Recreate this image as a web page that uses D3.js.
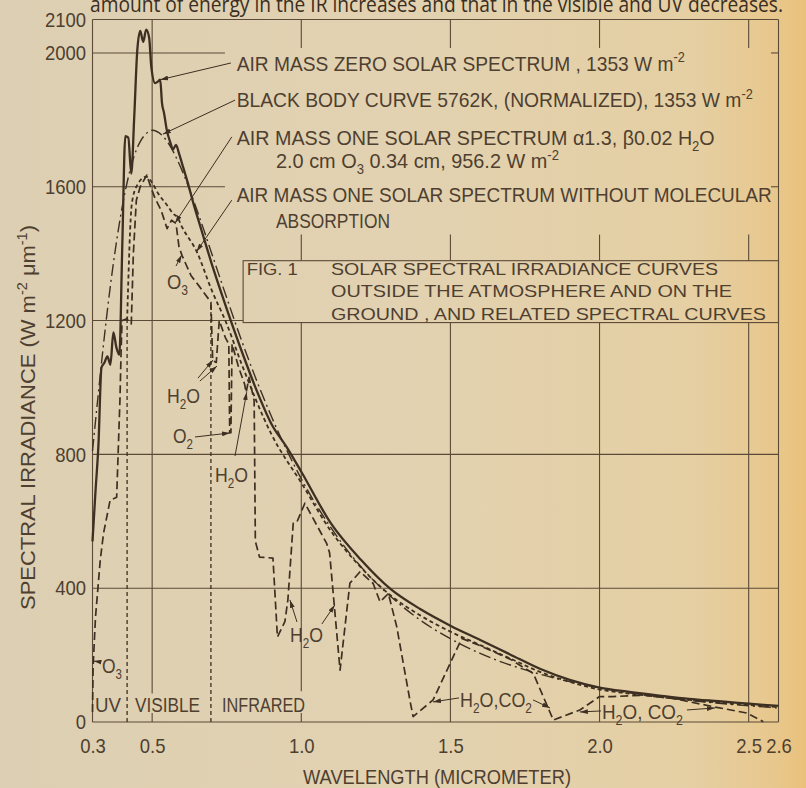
<!DOCTYPE html>
<html>
<head>
<meta charset="utf-8">
<script src="https://cdn.jsdelivr.net/npm/d3@7"></script>
<style>
  html, body { margin: 0; padding: 0; background: #e2d2b1; }
  svg { display: block; }
</style>
</head>
<body>
<svg id="chart" width="806" height="788"></svg>
<script>
// ---------------------------------------------------------------------------
// Axis ticks
const wavelengthTicks = [0.3, 0.5, 1.0, 1.5, 2.0, 2.5, 2.6];
const wavelengthTickLabels = ["0.3", "0.5", "1.0", "1.5", "2.0", "2.5", "2.6"];
const irradianceTicks = [0, 400, 800, 1200, 1600, 2000, 2100];
const irradianceTickLabels = ["0", "400", "800", "1200", "1600", "2000", "2100"];

// Air mass zero solar spectrum, 1353 W m-2 (W m-2 um-1)
const am0Wavelength = [0.300, 0.310, 0.320, 0.330, 0.340, 0.350, 0.360, 0.370, 0.380, 0.390,
  0.400, 0.410, 0.420, 0.430, 0.440, 0.450, 0.460, 0.470, 0.480, 0.490, 0.497, 0.510, 0.520,
  0.527, 0.533, 0.540, 0.549, 0.560, 0.570, 0.580, 0.590, 0.600, 0.620, 0.640, 0.660, 0.680,
  0.700, 0.720, 0.750, 0.800, 0.850, 0.900, 0.950, 1.000, 1.100, 1.200, 1.300, 1.400, 1.500,
  1.600, 1.700, 1.800, 1.900, 2.000, 2.100, 2.200, 2.300, 2.400, 2.500, 2.600];
const am0Irradiance = [540, 689, 830, 1059, 1074, 1093, 1068, 1165, 1120, 1098,
  1429, 1751, 1747, 1639, 1810, 2006, 2066, 2033, 2070, 2045, 1960, 1910, 1915,
  1920, 1850, 1820, 1770, 1735, 1712, 1725, 1700, 1670, 1610, 1545, 1486, 1427,
  1369, 1314, 1235, 1109, 992, 891, 823, 748, 593, 485, 397, 337, 288,
  245, 202, 159, 126, 103, 90, 79, 69, 62, 55, 48];

// Black body curve 5762 K, normalized to 1353 W m-2
const bbWavelength = [0.30, 0.32, 0.34, 0.36, 0.38, 0.40, 0.42, 0.44, 0.46, 0.48, 0.50, 0.55,
  0.60, 0.65, 0.70, 0.75, 0.80, 0.90, 1.00, 1.10, 1.20, 1.30, 1.40, 1.50, 1.60, 1.80, 2.00,
  2.20, 2.40, 2.60];
const bbIrradiance = [810, 986, 1154, 1304, 1433, 1542, 1628, 1693, 1735, 1759, 1769, 1736,
  1649, 1531, 1400, 1268, 1140, 913, 727, 580, 464, 375, 304, 249, 205, 143, 102,
  75, 56, 42];

// Air mass one solar spectrum, alpha 1.3, beta 0.02, H2O 2.0 cm, O3 0.34 cm, 956.2 W m-2
const am1Wavelength = [0.300, 0.302, 0.310, 0.326, 0.337, 0.359, 0.381, 0.392, 0.396, 0.399,
  0.415, 0.430, 0.437, 0.447, 0.460, 0.482, 0.495, 0.510, 0.530, 0.550, 0.565, 0.580, 0.590,
  0.600, 0.630, 0.660, 0.697, 0.703, 0.715, 0.725, 0.745, 0.757, 0.760, 0.764, 0.768, 0.790,
  0.810, 0.815, 0.825, 0.842, 0.846, 0.860, 0.905, 0.920, 0.945, 0.955, 0.973, 0.985, 1.012,
  1.085, 1.095, 1.130, 1.163, 1.197, 1.241, 1.264, 1.292, 1.320, 1.364, 1.375, 1.442, 1.538,
  1.600, 1.700, 1.778, 1.845, 1.934, 2.000, 2.045, 2.150, 2.250, 2.380, 2.493, 2.549];
const am1Irradiance = [30, 164, 313, 484, 564, 663, 672, 962, 1111, 1200,
  1205, 1190, 1400, 1560, 1600, 1635, 1600, 1565, 1530, 1475, 1500, 1490, 1420,
  1395, 1335, 1300, 1255, 1080, 1075, 1200, 1150, 1130, 865, 865, 1130, 1060,
  1010, 985, 1030, 960, 540, 493, 490, 254, 300, 364, 594, 597, 654,
  534, 505, 155, 415, 449, 414, 359, 384, 285, 66, 16, 66, 250,
  228, 188, 145, 6, 36, 76, 76, 80, 70, 46, 27, 1];

// Air mass one solar spectrum without molecular absorption
const am1ClearWavelength = [0.416, 0.432, 0.450, 0.480, 0.500, 0.520, 0.550, 0.570, 0.585,
  0.600, 0.650, 0.700, 0.750, 0.800, 0.900, 1.000, 1.100, 1.200, 1.300, 1.400, 1.500, 1.600,
  1.700, 1.800, 1.900, 2.000, 2.100, 2.200, 2.300, 2.400, 2.500, 2.600];
const am1ClearIrradiance = [1200, 1550, 1605, 1630, 1612, 1580, 1545, 1520, 1508,
  1480, 1405, 1290, 1190, 1070, 860, 715, 570, 462, 378, 318, 270, 230,
  190, 150, 120, 97, 85, 75, 66, 58, 51, 45];

// UV / visible / infrared band edges (micrometer)
const bandEdges = [0.416, 0.697];

// ---------------------------------------------------------------------------
const INK = "#3d2f21";
const GRID = "#5b4a37";
const TEXT = "#4e3f30";
const SANS = "'Liberation Sans', Arial, Helvetica, sans-serif";

const svg = d3.select("#chart");
const defs = svg.append("defs");

const paper = defs.append("linearGradient").attr("id", "paper")
  .attr("x1", 0).attr("x2", 1).attr("y1", 0).attr("y2", 0);
[[0, "#ddcfb3"], [0.5, "#e2d2b1"], [0.86, "#e5cfa3"], [0.965, "#e8c78c"], [1, "#eac07a"]]
  .forEach(([o, c]) => paper.append("stop").attr("offset", o).attr("stop-color", c));
svg.append("rect").attr("width", 806).attr("height", 788).attr("fill", "url(#paper)");

defs.append("marker").attr("id", "arrow")
  .attr("viewBox", "0 0 10 6").attr("refX", 10).attr("refY", 3)
  .attr("markerWidth", 8).attr("markerHeight", 5)
  .attr("markerUnits", "userSpaceOnUse").attr("orient", "auto")
  .append("path").attr("d", "M0,0L10,3L0,6Z").attr("fill", INK);

const x = d3.scaleLinear().domain([0.3, 2.6]).range([92.5, 778.5]);
const y = d3.scaleLinear().domain([0, 2100]).range([722, 19.5]);

function valueAt(xs, ys, v) {
  const i = d3.bisectLeft(xs, v);
  if (i <= 0) return ys[0];
  if (i >= xs.length) return ys[ys.length - 1];
  const t = (v - xs[i - 1]) / (xs[i] - xs[i - 1]);
  return ys[i - 1] + t * (ys[i] - ys[i - 1]);
}

// Text with sub/superscript pieces; parts are [text, "sub"|"sup"|undefined]
function rich(parent, parts, size, px, py, width, family) {
  const t = parent.append("text")
    .attr("x", px).attr("y", py)
    .attr("font-size", size).attr("font-family", family || SANS)
    .attr("fill", TEXT);
  let shift = 0;
  parts.forEach(p => {
    const s = t.append("tspan").text(p[0]);
    const target = p[1] === "sub" ? size * 0.3 : p[1] === "sup" ? -size * 0.4 : 0;
    if (target - shift !== 0) s.attr("dy", target - shift);
    shift = target;
    if (p[1]) s.attr("font-size", size * 0.66);
  });
  if (width) t.attr("textLength", width).attr("lengthAdjust", "spacingAndGlyphs");
  return t;
}

// ---------------------------------------------------------------------------
// Grid (drawn in pieces so it stays clear of the lettering)
const gridG = svg.append("g").attr("stroke", GRID).attr("stroke-width", 1.1).attr("fill", "none");
const hSegments = [
  [2100, [[0.3, 2.6]]],
  [2000, [[0.3, 0.744], [2.575, 2.6]]],
  [1600, [[0.3, 0.744], [2.575, 2.6]]],
  [1200, [[0.3, 0.805]]],
  [800, [[0.3, 2.6]]],
  [400, [[0.3, 2.6]]],
  [0, [[0.3, 2.6]]]
];
hSegments.forEach(([v, segs]) => segs.forEach(([a, b]) =>
  gridG.append("line").attr("x1", x(a)).attr("x2", x(b)).attr("y1", y(v)).attr("y2", y(v))));
const vSegments = [
  [0.3, [[0, 2100]]],
  [0.5, [[2100, 85], [27, 0]]],
  [1.0, [[2100, 2015], [1457, 1379], [1194, 92], [27, 0]]],
  [1.5, [[2100, 2015], [1457, 1379], [1194, 0]]],
  [2.0, [[2100, 2015], [1457, 1379], [1194, 0]]],
  [2.5, [[2100, 2015], [1457, 1379], [1194, 0]]],
  [2.6, [[0, 2100]]]
];
vSegments.forEach(([w, segs]) => segs.forEach(([a, b]) =>
  gridG.append("line").attr("x1", x(w)).attr("x2", x(w)).attr("y1", y(a)).attr("y2", y(b))));

// Caption box
gridG.append("rect")
  .attr("x", x(0.805)).attr("y", y(1379))
  .attr("width", x(2.6) - x(0.805)).attr("height", y(1194) - y(1379));

// ---------------------------------------------------------------------------
// Axes
const yAxis = svg.append("g").attr("transform", `translate(${x(0.3)},0)`)
  .call(d3.axisLeft(y).tickValues(irradianceTicks).tickSize(0).tickPadding(6.5)
    .tickFormat((d, i) => irradianceTickLabels[i]));
const xAxis = svg.append("g").attr("transform", `translate(0,${y(0)})`)
  .call(d3.axisBottom(x).tickValues(wavelengthTicks).tickSize(0).tickPadding(16)
    .tickFormat((d, i) => wavelengthTickLabels[i]));
[yAxis, xAxis].forEach(g => {
  g.select(".domain").remove();
  g.selectAll("text").attr("font-size", 21).attr("font-family", SANS).attr("fill", TEXT)
    .each(function () {
      const w = this.getComputedTextLength();
      d3.select(this).attr("textLength", w * 0.88).attr("lengthAdjust", "spacingAndGlyphs");
    });
});

rich(svg, [["WAVELENGTH (MICROMETER)"]], 21, 437, 784, 268).attr("text-anchor", "middle");
rich(svg, [["SPECTRAL IRRADIANCE (W m"], ["-2", "sup"], [" μm"], ["-1", "sup"], [")"]], 21, 0, 0, 385)
  .attr("transform", "translate(35,610) rotate(-90)");

// Running text above the chart
rich(svg, [["amount of energy in the IR increases and that in the visible and UV decreases."]],
  21, 90, 11.5, 693, "'Open Sans', 'Noto Sans', sans-serif").attr("fill", "#3a2e22");

// ---------------------------------------------------------------------------
// Band edges
const bandG = svg.append("g").attr("stroke", INK).attr("stroke-width", 1.3)
  .attr("stroke-dasharray", "4,3").attr("fill", "none");
bandEdges.forEach(w => bandG.append("line")
  .attr("x1", x(w)).attr("x2", x(w)).attr("y1", y(0))
  .attr("y2", y(valueAt(am1Wavelength, am1Irradiance, w))));

// Curves
const path = (xs, ys, curve) => d3.line().x(d => x(d[0])).y(d => y(d[1])).curve(curve)(d3.zip(xs, ys));
const curveG = svg.append("g").attr("fill", "none").attr("stroke", INK)
  .attr("stroke-linejoin", "round");
curveG.append("path").attr("d", path(bbWavelength, bbIrradiance, d3.curveMonotoneX))
  .attr("stroke-width", 1.4).attr("stroke-dasharray", "12,4,2,4");
curveG.append("path").attr("d", path(am1ClearWavelength, am1ClearIrradiance, d3.curveMonotoneX))
  .attr("stroke-width", 1.8).attr("stroke-dasharray", "4,3");
curveG.append("path").attr("d", path(am1Wavelength, am1Irradiance, d3.curveLinear))
  .attr("stroke-width", 1.7).attr("stroke-dasharray", "8,4");
curveG.append("path").attr("d", path(am0Wavelength, am0Irradiance, d3.curveMonotoneX))
  .attr("stroke-width", 2.3);

// ---------------------------------------------------------------------------
// Curve legend with leader lines
const legendG = svg.append("g");
rich(legendG, [["AIR MASS ZERO SOLAR SPECTRUM , 1353 W m"], ["-2", "sup"]], 21, x(0.7835), y(1947), 448);
rich(legendG, [["BLACK BODY CURVE 5762K, (NORMALIZED), 1353 W m"], ["-2", "sup"]], 21, x(0.7835), y(1837), 516);
rich(legendG, [["AIR MASS ONE SOLAR SPECTRUM α1.3, β0.02 H"], ["2", "sub"], ["O"]], 21, x(0.7835), y(1726), 478);
rich(legendG, [["2.0 cm O"], ["3", "sub"], [" 0.34 cm, 956.2 W m"], ["-2", "sup"]], 21, x(0.9152), y(1656), 283);
rich(legendG, [["AIR MASS ONE SOLAR SPECTRUM WITHOUT MOLECULAR"]], 21, x(0.7835), y(1553), 535);
rich(legendG, [["ABSORPTION"]], 21, x(0.9152), y(1478), 114);

const leaderG = svg.append("g").attr("stroke", INK).attr("stroke-width", 1).attr("fill", "none");
function leader(w0, v0, w1, v1) {
  leaderG.append("line").attr("x1", x(w0)).attr("y1", y(v0)).attr("x2", x(w1)).attr("y2", y(v1))
    .attr("marker-end", "url(#arrow)");
}
leader(0.764, 1970, 0.527, valueAt(am0Wavelength, am0Irradiance, 0.527));
leader(0.778, 1859, 0.536, valueAt(bbWavelength, bbIrradiance, 0.536) + 12);
leader(0.767, 1749, 0.577, valueAt(am1Wavelength, am1Irradiance, 0.577));
leader(0.767, 1560, 0.649, valueAt(am1ClearWavelength, am1ClearIrradiance, 0.649));

// Absorption band labels
const bandLabelG = svg.append("g");
rich(bandLabelG, [["O"], ["3", "sub"]], 21, x(0.5498), y(1294), 21);
leader(0.580, 1363, 0.599, 1396);

rich(bandLabelG, [["H"], ["2", "sub"], ["O"]], 21, x(0.55), y(953), 33);
leader(0.6537, 1028, 0.704, 1082);
leader(0.660, 1019, 0.7174, 1064);

rich(bandLabelG, [["O"], ["2", "sub"]], 21, x(0.570), y(834), 20);
leader(0.6437, 852, 0.761, 864);

rich(bandLabelG, [["H"], ["2", "sub"], ["O"]], 21, x(0.7107), y(717), 33);
leader(0.7778, 795, 0.817, 986);

rich(bandLabelG, [["H"], ["2", "sub"], ["O"]], 21, x(0.962), y(239), 33);
leader(0.9856, 299, 0.962, 365);
leader(1.069, 293, 1.1125, 350);

rich(bandLabelG, [["H"], ["2", "sub"], ["O,CO"], ["2", "sub"]], 21, x(1.532), y(45), 72);
leader(1.5288, 72, 1.4416, 60);
leader(1.777, 66, 1.834, 42);

rich(bandLabelG, [["H"], ["2", "sub"], ["O, CO"], ["2", "sub"]], 21, x(2.008), y(9), 81);
leader(2.005, 33, 1.934, 30);
leader(2.293, 36, 2.387, 42);

rich(bandLabelG, [["O"], ["3", "sub"]], 21, x(0.3319), y(146), 20);
leader(0.3285, 179, 0.3034, 182);

rich(bandLabelG, [["UV"]], 21, x(0.3084), y(30), 26);
rich(bandLabelG, [["VISIBLE"]], 21, x(0.4425), y(30), 65);
rich(bandLabelG, [["INFRARED"]], 21, x(0.7342), y(30), 83);

// Figure caption
const capG = svg.append("g");
rich(capG, [["FIG. 1"]], 16.5, x(0.817), y(1336), 51);
rich(capG, [["SOLAR SPECTRAL IRRADIANCE CURVES"]], 16.5, x(1.0996), y(1336), 387);
rich(capG, [["OUTSIDE THE ATMOSPHERE AND ON THE"]], 16.5, x(1.0996), y(1270), 401);
rich(capG, [["GROUND , AND RELATED SPECTRAL CURVES"]], 16.5, x(1.0996), y(1203), 435);
</script>
</body>
</html>
